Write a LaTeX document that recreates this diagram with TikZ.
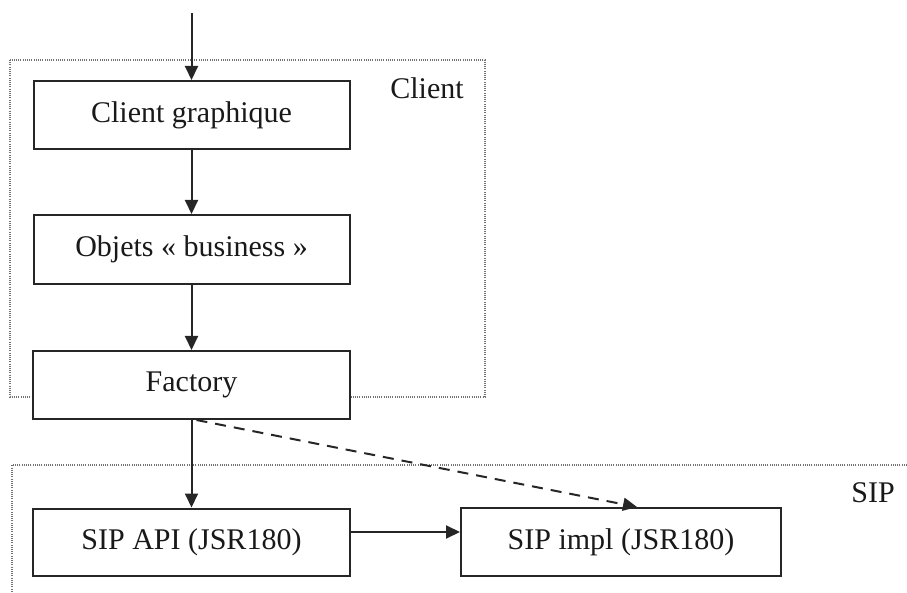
\documentclass[tikz,border=0pt]{standalone}
\usepackage{fontspec}
\setmainfont{Liberation Serif}
\usetikzlibrary{arrows.meta,calc}
\begin{document}
\begin{tikzpicture}[x=1pt,y=-1pt,
  every node/.style={font=\fontsize{30}{36}\selectfont, text=black!90},
  block/.style={draw=black!85, line width=2pt, fill=white, inner sep=0pt},
  zone/.style={draw=black!55, line width=1.3pt, dash pattern=on 1pt off 1.2pt},
  flow/.style={draw=black!85, line width=2pt, -{Triangle[length=14pt,width=13pt]}},
  weak/.style={flow, dash pattern=on 11pt off 8pt}]
  \useasboundingbox (0,0) rectangle (907,593);
  % packages
  \draw[zone] (10,60) rectangle (485,397);
  \draw[zone] (907,465) -- (12,465) -- (12,600);
  \node (lclient) at (427,88) {Client};
  \node (lsip) at (873,493) {SIP};
  % components
  \node[block, minimum width=316pt, minimum height=68pt] (cg) at (191.5,115) {Client graphique};
  \node[block, minimum width=316pt, minimum height=69pt] (ob) at (191.5,249.5) {Objets « business »};
  \node[block, minimum width=317pt, minimum height=68pt] (fa) at (191.5,385) {Factory};
  \node[block, minimum width=317pt, minimum height=67pt] (api) at (191.5,542) {SIP API (JSR180)};
  \node[block, minimum width=320pt, minimum height=68pt] (impl) at (621,542) {SIP impl (JSR180)};
  \coordinate (in) at (191.5,13);
  % calls
  \draw[flow] (in) -- (cg.north);
  \draw[flow] (cg.south) -- (ob.north);
  \draw[flow] (ob.south) -- (fa.north);
  \draw[flow] (fa.south) -- (api.north);
  \draw[flow] ($(api.east)+(0,-10)$) -- ($(impl.west)+(0,-10)$);
  \draw[weak] ($(fa.south)+(5,0)$) -- ($(impl.north)+(16,0)$);
\end{tikzpicture}
\end{document}
